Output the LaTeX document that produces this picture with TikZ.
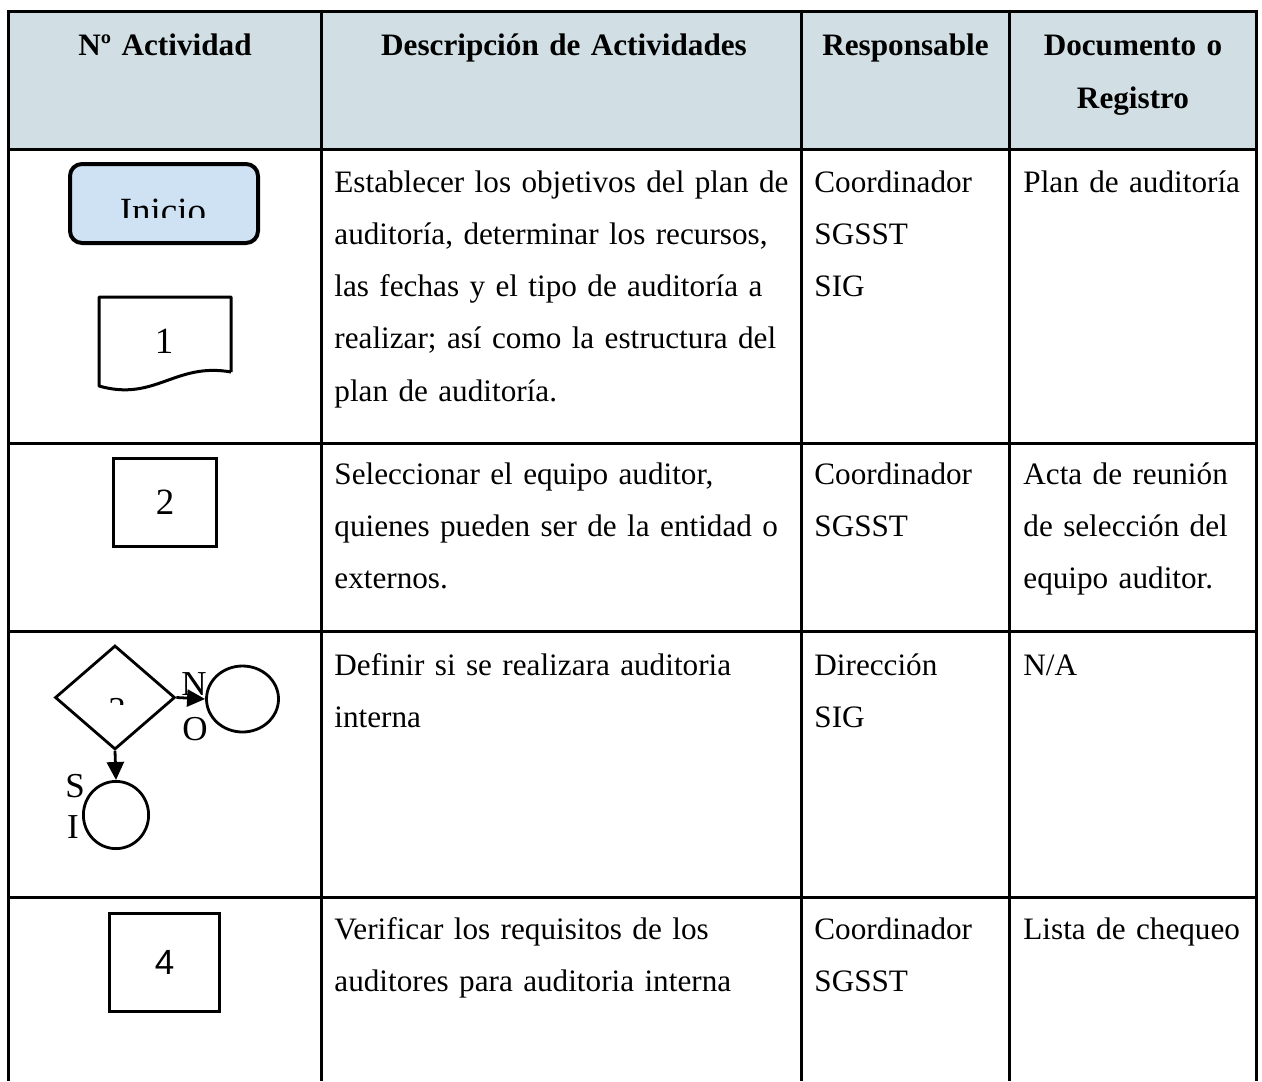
\documentclass[tikz,border=0pt]{standalone}
\usepackage{fontspec}
\setmainfont{Liberation Serif}[WordSpace=0.85]
\newfontfamily\arialfont{Liberation Sans}
\usetikzlibrary{shapes.geometric,arrows.meta}
\definecolor{headerGray}{HTML}{D1DFE4}
\definecolor{startBlue}{HTML}{CFE2F3}

\begin{document}
\begin{tikzpicture}[x=0.5pt,y=-0.5pt,
    rule/.style={line width=1.5pt},
    headtxt/.style={font=\bfseries\fontsize{15.6}{26.4}\selectfont,anchor=base,inner sep=0pt,
      text width=200pt,align=center,execute at begin node={\setlength{\baselineskip}{26.4pt}}},
    celltxt/.style={font=\fontsize{15.6}{26.15}\selectfont,anchor=base west,inner sep=0pt,
      text width=235pt,align=left,execute at begin node={\setlength{\baselineskip}{26.15pt}}},
    numtxt/.style={font=\fontsize{18.5}{22}\selectfont,anchor=base,inner sep=0pt},
    lettertxt/.style={font=\fontsize{17.5}{21}\selectfont,anchor=base,inner sep=0pt},
    startbox/.style={draw,line width=2pt,fill=startBlue,rounded corners=6pt,inner sep=0pt,
      minimum width=94pt,minimum height=39.5pt},
    stepbox/.style={draw,line width=1.5pt,inner sep=0pt},
    decision/.style={draw,diamond,line width=1.4pt,inner sep=0pt,minimum width=60pt,minimum height=52pt},
    connector/.style={draw,ellipse,line width=1.4pt,inner sep=0pt},
    flowarrow/.style={line width=1.4pt,-{Triangle[length=9pt,width=8.5pt]}}]
  \useasboundingbox (0,0) rectangle (1262,1081);

  % Header and grid.
  \fill [headerGray] (8.5,11.5) rectangle (1256.5,149);
  \foreach \x in {8.5,321,801.5,1009.5,1256.5}
    \draw [rule] (\x,10) -- (\x,1081);
  \foreach \y in {11.5,149,443,631.5,897}
    \draw [rule] (7,\y) -- (1258,\y);

  \node [headtxt] (hnum) at (165,56) {Nº Actividad};
  \node [headtxt] (hdesc) at (564,56) {Descripción de Actividades};
  \node [headtxt] (hresp) at (905.5,56) {Responsable};
  \node [headtxt] (hdoc) at (1133,56) {Documento o\\Registro};

  % Activity 1.
  \node [startbox] (inicio) at (164,203.5) {};
  \begin{scope}
    \clip (70,166) rectangle (258,217.5);
    \node [numtxt] (iniciotxt) at (163,223) {Inicio};
  \end{scope}
  \draw [line width=1.5pt,line join=round] (231,372) -- (231,297) -- (99,297) -- (99,386)
    .. controls (155,402) and (175,362) .. (231,372);
  \node [numtxt] (act1) at (164,353) {1};
  \node [celltxt] (desc1) at (334,192) {Establecer los objetivos del plan de\\auditoría, determinar los recursos,\\las fechas y el tipo de auditoría a\\realizar; así como la estructura del\\plan de auditoría.};
  \node [celltxt] (resp1) at (814,192) {Coordinador\\SGSST\\SIG};
  \node [celltxt] (doc1) at (1023,192) {Plan de auditoría};

  % Activity 2.
  \node [stepbox,minimum width=51.5pt,minimum height=44pt,font=\fontsize{18.5}{22}\selectfont] (act2) at (165,502.5) {2};
  \node [celltxt] (desc2) at (334,484) {Seleccionar el equipo auditor,\\quienes pueden ser de la entidad o\\externos.};
  \node [celltxt] (resp2) at (814,484) {Coordinador\\SGSST};
  \node [celltxt] (doc2) at (1023,484) {Acta de reunión\\de selección del\\equipo auditor.};

  % Activity 3.
  \node [decision] (dec3) at (115,697.5) {};
  \begin{scope}
    \clip (100,690) rectangle (130,704.5);
    \node [lettertxt] (act3) at (117,721) {3};
  \end{scope}
  \node [connector,minimum width=36pt,minimum height=33pt] (endno) at (242.5,699) {};
  \node [connector,minimum width=32.6pt,minimum height=33.6pt] (endsi) at (116,815) {};
  \draw [flowarrow] (dec3.east) -- (endno.west);
  \draw [flowarrow] (dec3.south) -- (endsi.north);
  \node [lettertxt] (noN) at (194,695) {N};
  \node [lettertxt] (noO) at (195,740) {O};
  \node [lettertxt] (siS) at (75,797) {S};
  \node [lettertxt] (siI) at (73,838) {I};
  \node [celltxt] (desc3) at (334,675) {Definir si se realizara auditoria\\interna};
  \node [celltxt] (resp3) at (814,675) {Dirección\\SIG};
  \node [celltxt] (doc3) at (1023,675) {N/A};

  % Activity 4.
  \node [stepbox,minimum width=55pt,minimum height=49pt,font=\arialfont\fontsize{17.5}{21}\selectfont] (act4) at (164.5,962.5) {4};
  \node [celltxt] (desc4) at (334,939) {Verificar los requisitos de los\\auditores para auditoria interna};
  \node [celltxt] (resp4) at (814,939) {Coordinador\\SGSST};
  \node [celltxt] (doc4) at (1023,939) {Lista de chequeo};
\end{tikzpicture}
\end{document}
